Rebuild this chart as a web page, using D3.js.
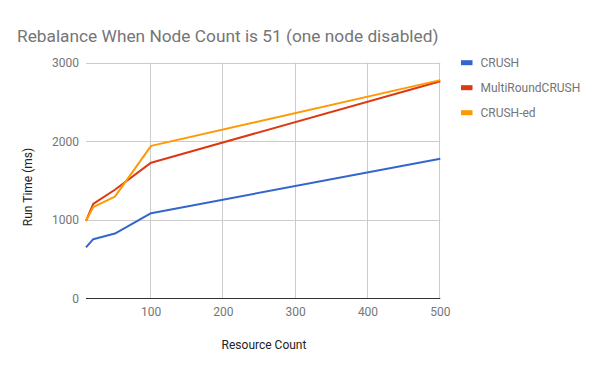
<!DOCTYPE html>
<html>
<head>
<meta charset="utf-8">
<script src="https://cdn.jsdelivr.net/npm/d3@7"></script>
<style>
  body { margin: 0; background: #fff; }
  text { font-family: Roboto, "Noto Sans", sans-serif; }
</style>
</head>
<body>
<div id="chart"></div>
<script>
// data
const resourceCounts = [10, 20, 50, 100, 500];
const crush = [648, 753, 825, 1084, 1778];
const multiRound = [985, 1203, 1382, 1727, 2764];
const crushEd = [985, 1162, 1294, 1941, 2778];
const seriesNames = ["CRUSH", "MultiRoundCRUSH", "CRUSH-ed"];
const seriesColors = ["#3366cc", "#dc3912", "#ff9900"];
const xTicks = [100, 200, 300, 400, 500];
const yTicks = [0, 1000, 2000, 3000];

const chart_w = 600, chart_h = 371;
const plotLeft = 86, plotRight = 440.3, plotTop = 62.7, plotBottom = 298.3;

const svg = d3.select("#chart")
    .append("svg")
    .attr("width", chart_w)
    .attr("height", chart_h);

const x = d3.scaleLinear().domain([10, 500]).range([plotLeft, plotRight]);
const y = d3.scaleLinear().domain([0, 3000]).range([plotBottom, plotTop]);

// Title
svg.append("text")
    .attr("x", 17)
    .attr("y", 42)
    .attr("font-size", "17.3px")
    .attr("fill", "#757575")
    .text("Rebalance When Node Count is 51 (one node disabled)");

// gridlines
svg.append("g")
    .selectAll("line")
    .data(yTicks.filter(d => d > 0))
    .join("line")
    .attr("x1", plotLeft).attr("x2", plotRight)
    .attr("y1", d => Math.round(y(d)) + 0.5)
    .attr("y2", d => Math.round(y(d)) + 0.5)
    .attr("stroke", "#cccccc");

svg.append("g")
    .selectAll("line")
    .data(xTicks)
    .join("line")
    .attr("x1", d => Math.round(x(d)) - 0.5)
    .attr("x2", d => Math.round(x(d)) - 0.5)
    .attr("y1", plotTop).attr("y2", plotBottom)
    .attr("stroke", "#cccccc");

// tick labels
svg.append("g")
    .selectAll("text")
    .data(yTicks)
    .join("text")
    .attr("x", 79)
    .attr("y", d => y(d) + 4.5)
    .attr("text-anchor", "end")
    .attr("font-size", "12px")
    .attr("fill", "#757575")
    .text(d => d);

svg.append("g")
    .selectAll("text")
    .data(xTicks)
    .join("text")
    .attr("x", d => x(d))
    .attr("y", 316)
    .attr("text-anchor", "middle")
    .attr("font-size", "12px")
    .attr("fill", "#757575")
    .text(d => d);

// axis titles
svg.append("text")
    .attr("x", 264)
    .attr("y", 349)
    .attr("text-anchor", "middle")
    .attr("font-size", "12px")
    .attr("fill", "#222")
    .text("Resource Count");

svg.append("text")
    .attr("transform", "translate(31.5,187) rotate(-90)")
    .attr("text-anchor", "middle")
    .attr("font-size", "12px")
    .attr("fill", "#222")
    .text("Run Time (ms)");

// lines
const allSeries = [crush, multiRound, crushEd];
const line = d3.line()
    .x((d, i) => x(resourceCounts[i]))
    .y(d => y(d));

svg.append("g")
    .selectAll("path")
    .data(allSeries)
    .join("path")
    .attr("d", d => line(d))
    .attr("fill", "none")
    .attr("stroke", (d, i) => seriesColors[i])
    .attr("stroke-width", 2)
    .attr("stroke-linejoin", "round");

// baseline
svg.append("line")
    .attr("x1", plotLeft).attr("x2", plotRight)
    .attr("y1", Math.round(y(0)) + 0.5).attr("y2", Math.round(y(0)) + 0.5)
    .attr("stroke", "#333");

// legend
const legend = svg.append("g")
    .selectAll("g")
    .data(seriesNames)
    .join("g")
    .attr("transform", (d, i) => `translate(461, ${62.7 + i * 25})`);

legend.append("rect")
    .attr("x", 0).attr("y", -2.5)
    .attr("width", 11.5).attr("height", 5)
    .attr("fill", (d, i) => seriesColors[i]);

legend.append("text")
    .attr("x", 19.5)
    .attr("y", 4.5)
    .attr("font-size", "12px")
    .attr("fill", "#757575")
    .text(d => d);
</script>
</body>
</html>
